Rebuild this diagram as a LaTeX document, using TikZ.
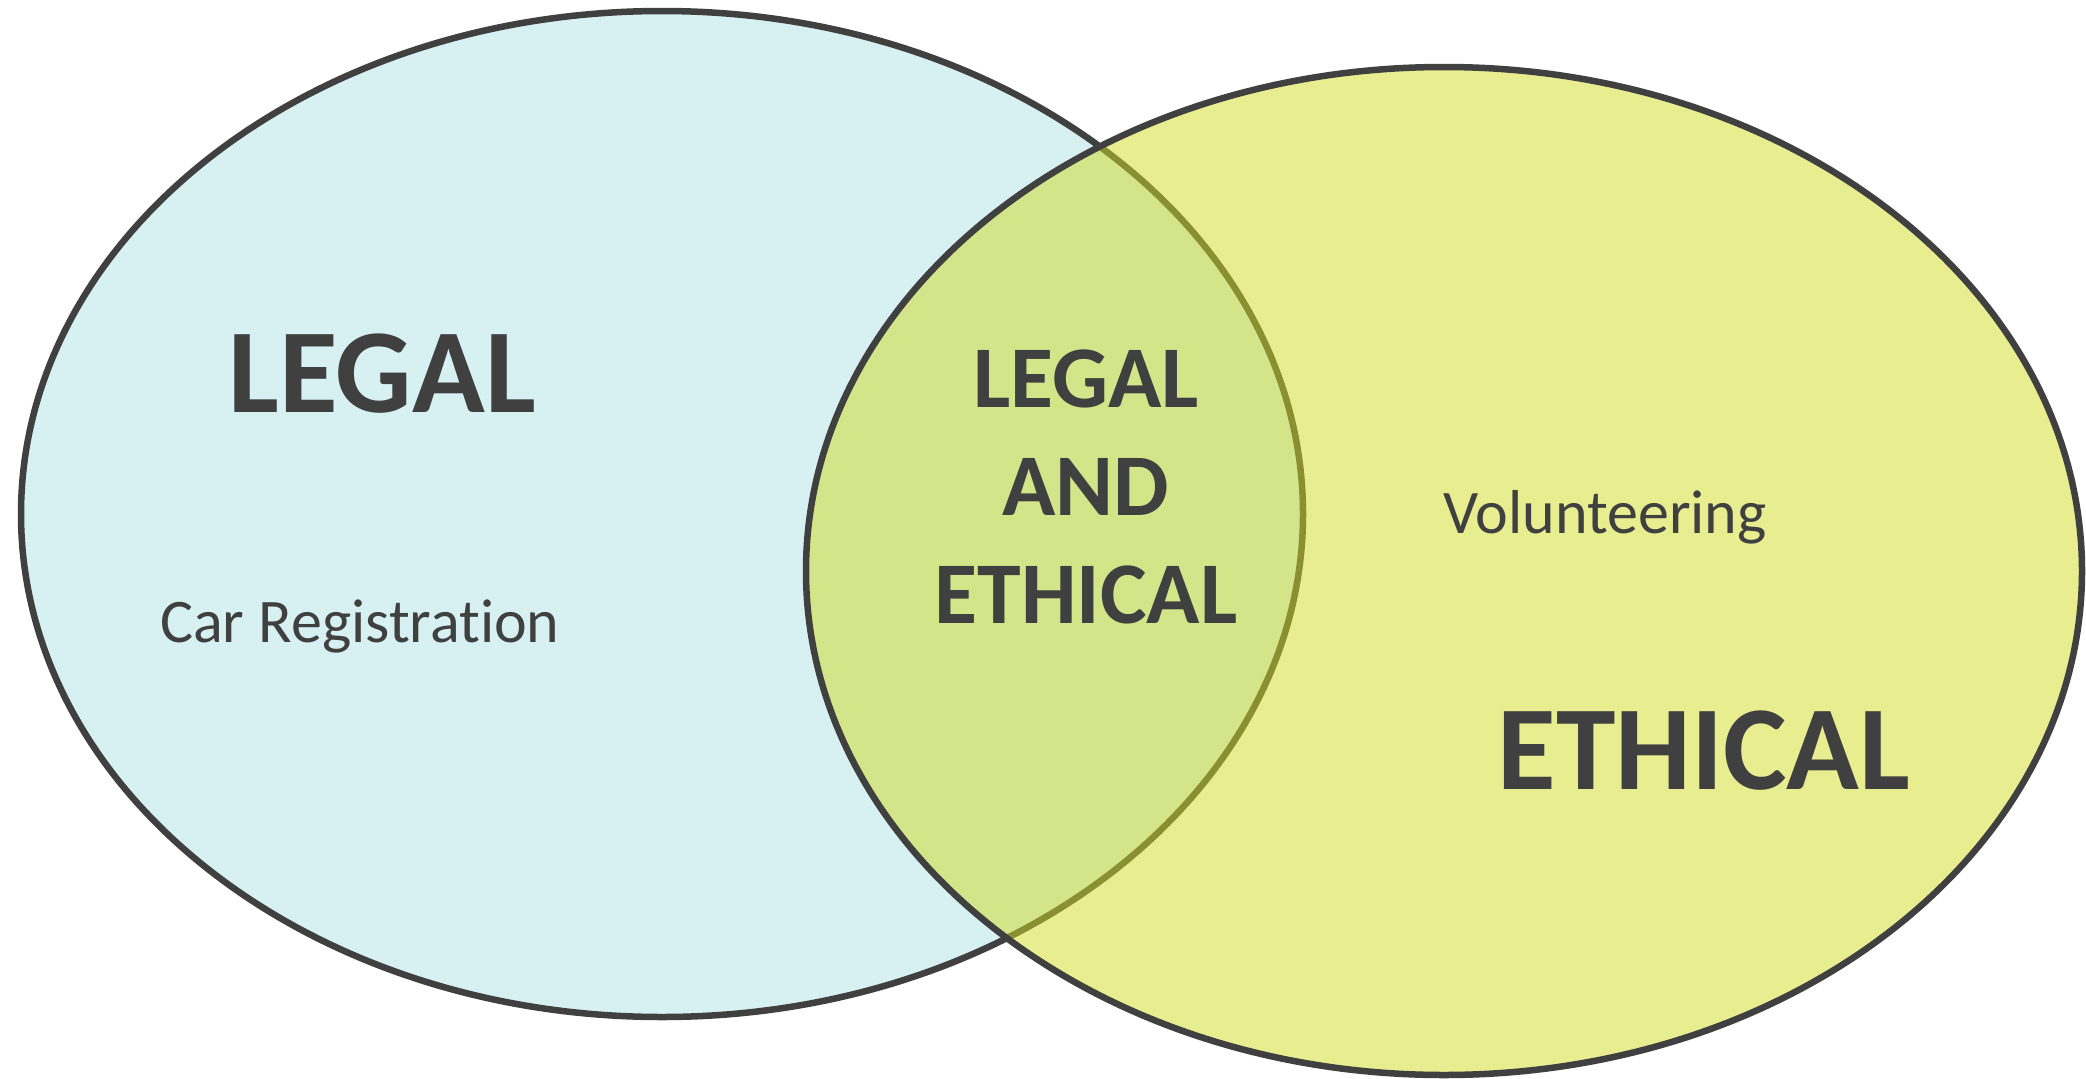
\documentclass[tikz,border=0pt]{standalone}
\usepackage{fontspec}
\setmainfont{Carlito}[Ligatures={NoCommon}]
\definecolor{leftfill}{RGB}{215,241,243}
\definecolor{rightfill}{RGB}{210,219,37}
\definecolor{edge}{RGB}{64,64,64}
\definecolor{txt}{RGB}{64,64,64}
\tikzset{
  circleedge/.style={draw=edge, line width=6.5pt},
  bigword/.style={text=txt, font=\bfseries\fontsize{120}{130}\selectfont, anchor=base, inner sep=0pt},
  midword/.style={text=txt, font=\bfseries\fontsize{88}{96}\selectfont, anchor=base, inner sep=0pt},
  smallword/.style={text=txt, font=\fontsize{62}{70}\selectfont, anchor=base west, inner sep=0pt},
}
\begin{document}
\begin{tikzpicture}[x=1pt, y=-1pt]
\useasboundingbox (0,0) rectangle (2086,1079);
% left set
\path[fill=leftfill, circleedge] (662,514) ellipse [x radius=641, y radius=503];
% right set (semi-transparent fill over left)
\path[fill=rightfill, fill opacity=0.51] (1444,571) ellipse [x radius=638, y radius=504];
\draw[circleedge] (1444,571) ellipse [x radius=638, y radius=504];
% labels
\node[bigword] (legal) at (382,412) {LEGAL};
\node[bigword] (ethical) at (1704,789) {ETHICAL};
\node[midword] (m1) at (1086,407) {LEGAL};
\node[midword] (m2) at (1086,515) {AND};
\node[midword] (m3) at (1086,623) {ETHICAL};
\node[smallword] (car) at (160,642) {Car Registration};
\node[smallword] (vol) at (1443,533) {Volunteering};
\end{tikzpicture}
\end{document}
